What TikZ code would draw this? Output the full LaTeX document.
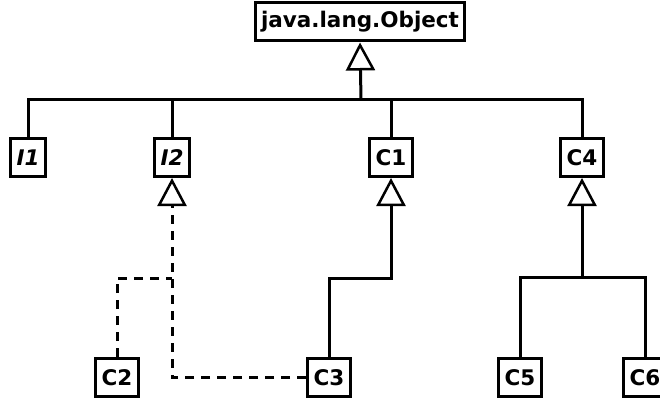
\documentclass[tikz,border=0pt]{standalone}
\usepackage{fontspec}
\setmainfont{DejaVu Sans}
\usetikzlibrary{arrows.meta}
\begin{document}
\begin{tikzpicture}[x=1pt,y=1pt,line width=3pt,
  cls/.style={draw,fill=white,minimum height=38pt,inner xsep=6pt,inner ysep=0pt,font=\fontsize{21.5}{24}\selectfont\bfseries},
  ifc/.style={cls,font=\fontsize{21.5}{24}\selectfont\bfseries\itshape},
  inh/.style={-{Triangle[open,length=28pt,width=29pt,line width=2.5pt]}},
  dsh/.style={dash pattern=on 9pt off 7pt}]
\useasboundingbox (0,0) rectangle (660,-401);
\node[cls] (obj) at (360,-22) {java.lang.Object};
\node[ifc] (I1) at (28,-157.5) {I1};
\node[ifc] (I2) at (172,-157.5) {I2};
\node[cls] (C1) at (391,-157.5) {C1};
\node[cls] (C4) at (582,-157.5) {C4};
\node[cls] (C2) at (117,-377.5) {C2};
\node[cls] (C3) at (329,-377.5) {C3};
\node[cls] (C5) at (520,-377.5) {C5};
\node[cls] (C6) at (645,-377.5) {C6};
\coordinate (bus) at (361,-100);
\draw (I1.north) |- (bus) -| (C4.north);
\draw (I2.north) -- (I2.north |- bus);
\draw (C1.north) -- (C1.north |- bus);
\draw[inh] (bus) -- (obj.south);
\coordinate (jc1) at (391,-278);
\draw[inh] (C3.north) |- (jc1) -- (C1.south);
\coordinate (jc4) at (582,-277);
\draw[inh] (C5.north) |- (jc4) -- (C4.south);
\draw (C6.north) |- (jc4);
\coordinate (ji2) at (172,-278);
\draw[dsh] (C2.north) |- (ji2);
\draw[dsh,inh] (C3.west) -| (I2.south);
\end{tikzpicture}
\end{document}
